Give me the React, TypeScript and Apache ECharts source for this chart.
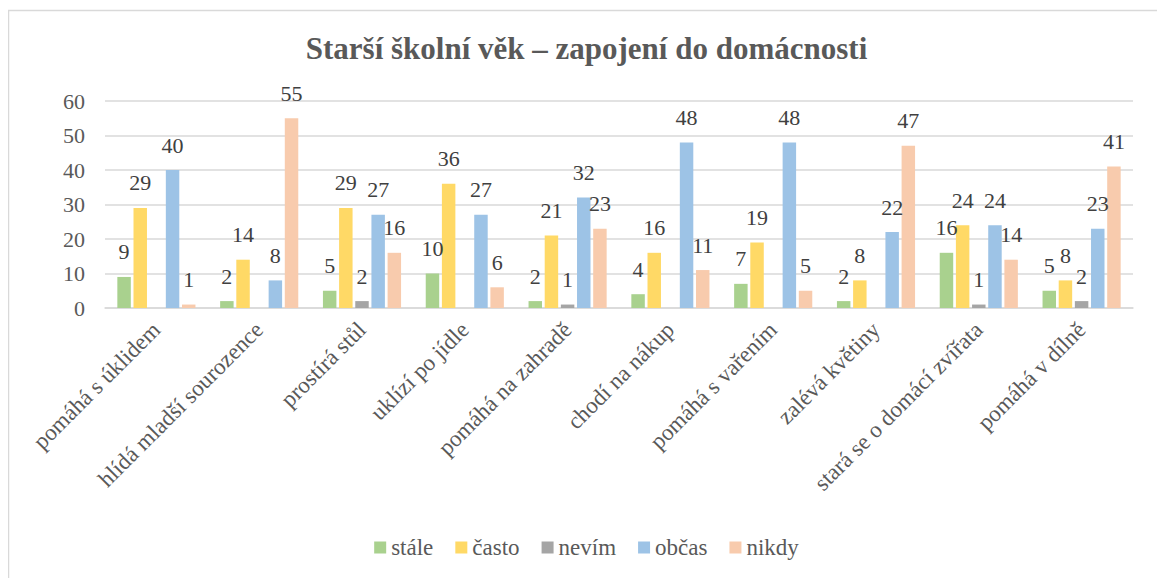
import React, { useEffect, useRef } from "react";
import * as echarts from "echarts";

const categories = [
  "pomáhá s úklidem",
  "hlídá mladší sourozence",
  "prostírá stůl",
  "uklízí po jídle",
  "pomáhá na zahradě",
  "chodí na nákup",
  "pomáhá s vařením",
  "zalévá květiny",
  "stará se o domácí zvířata",
  "pomáhá v dílně",
];
const stale = [9, 2, 5, 10, 2, 4, 7, 2, 16, 5];
const casto = [29, 14, 29, 36, 21, 16, 19, 8, 24, 8];
const nevim = [null, null, 2, null, 1, null, null, null, 1, 2];
const obcas = [40, 8, 27, 27, 32, 48, 48, 22, 24, 23];
const nikdy = [1, 55, 16, 6, 23, 11, 5, 47, 14, 41];
const seriesNames = ["stále", "často", "nevím", "občas", "nikdy"];
const seriesColors = ["#A9D18E", "#FFD966", "#A5A5A5", "#9DC3E6", "#F8CBAD"];
const yTicks = { min: 0, max: 60, interval: 10 };

const FONT = "Times New Roman, Liberation Serif, DejaVu Serif, serif";

export default function App() {
  const ref = useRef<HTMLDivElement>(null);
  useEffect(() => {
    const chart = echarts.init(ref.current!, undefined, { renderer: "svg" });
    const data = [stale, casto, nevim, obcas, nikdy];
    chart.setOption({
      animation: false,
      textStyle: { fontFamily: FONT },
      title: {
        text: "Starší školní věk – zapojení do domácnosti",
        left: "center",
        top: 20,
        textStyle: {
          fontFamily: FONT,
          fontSize: 31,
          fontWeight: "bold",
          color: "#595959",
        },
      },
      graphic: [
        {
          type: "rect",
          shape: { x: 0.5, y: 2.5, width: 1300, height: 700 },
          style: { fill: "none", stroke: "#d9d9d9", lineWidth: 1.5 },
          silent: true,
        },
      ],
      legend: {
        bottom: 14,
        left: "center",
        itemWidth: 12,
        itemHeight: 12,
        itemGap: 22,
        icon: "rect",
        textStyle: { fontFamily: FONT, fontSize: 23, color: "#595959" },
        data: seriesNames,
      },
      grid: { left: 97, right: 32, top: 93, bottom: 270, containLabel: false },
      xAxis: {
        type: "category",
        data: categories,
        axisLine: { lineStyle: { color: "#d9d9d9", width: 1.5 } },
        axisTick: { show: false },
        axisLabel: {
          rotate: 45,
          interval: 0,
          margin: 18,
          fontFamily: FONT,
          fontSize: 23,
          color: "#595959",
        },
      },
      yAxis: {
        type: "value",
        min: yTicks.min,
        max: yTicks.max,
        interval: yTicks.interval,
        axisLine: { show: false },
        axisTick: { show: false },
        splitLine: { lineStyle: { color: "#d9d9d9", width: 1.5 } },
        axisLabel: {
          margin: 20,
          fontFamily: FONT,
          fontSize: 22,
          color: "#595959",
        },
      },
      series: seriesNames.map((name, i) => ({
        name,
        type: "bar",
        data: data[i],
        barGap: "20%",
        barCategoryGap: "24%",
        itemStyle: { color: seriesColors[i] },
        label: {
          show: true,
          position: "top",
          distance: 14,
          fontFamily: FONT,
          fontSize: 22,
          color: "#404040",
        },
      })),
    });
    return () => chart.dispose();
  }, []);
  return <div ref={ref} style={{ width: 1157, height: 570 }} />;
}
